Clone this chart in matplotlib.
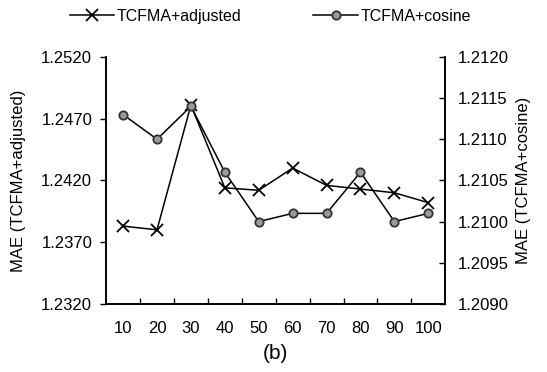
import matplotlib
matplotlib.use("Agg")
import matplotlib.pyplot as plt
from matplotlib.ticker import FixedLocator, FormatStrFormatter

plt.rcParams['font.family'] = ['Liberation Sans', 'DejaVu Sans']

#Data
neighbors = [10, 20, 30, 40, 50, 60, 70, 80, 90, 100]
mae_adjusted = [1.2383, 1.2380, 1.2481, 1.2414, 1.2412, 1.2430, 1.2416, 1.2413, 1.2410, 1.2402]
mae_cosine = [1.2113, 1.2110, 1.2114, 1.2106, 1.2100, 1.2101, 1.2101, 1.2106, 1.2100, 1.2101]
left_ticks = [1.2320, 1.2370, 1.2420, 1.2470, 1.2520]
right_ticks = [1.2090, 1.2095, 1.2100, 1.2105, 1.2110, 1.2115, 1.2120]

fig = plt.figure(figsize=(5.47, 3.72), dpi=100)
ax = fig.add_axes([0.194, 0.183, 0.620, 0.664])
ax2 = ax.twinx()

pos = list(range(1, len(neighbors) + 1))
l1, = ax.plot(pos, mae_adjusted, color='black', lw=1.1, marker='x',
              markersize=8, markeredgewidth=1.3)
l2, = ax2.plot(pos, mae_cosine, color='black', lw=1.1, marker='o',
               markersize=6, markerfacecolor='#9a9a9a', markeredgecolor='#333333',
               markeredgewidth=1.3)

ax.set_xlim(0.5, len(neighbors) + 0.5)
ax.set_ylim(left_ticks[0], left_ticks[-1])
ax2.set_ylim(right_ticks[0], right_ticks[-1])
ax.set_yticks(left_ticks)
ax2.set_yticks(right_ticks)
ax.yaxis.set_major_formatter(FormatStrFormatter('%.4f'))
ax2.yaxis.set_major_formatter(FormatStrFormatter('%.4f'))

ax.set_xticks(pos)
ax.set_xticklabels([str(n) for n in neighbors])
ax.xaxis.set_minor_locator(FixedLocator([p + 0.5 for p in pos[:-1]]))
ax.tick_params(axis='x', which='major', length=0, pad=12, labelsize=12)
ax.tick_params(axis='x', which='minor', length=4, direction='in', width=1)
ax.tick_params(axis='y', length=4, direction='out', width=1, labelsize=12, pad=6)
ax2.tick_params(axis='y', length=4, direction='in', width=1, labelsize=12, pad=9)

for a in (ax, ax2):
    for s in a.spines.values():
        s.set_linewidth(1.2)
ax.spines['top'].set_visible(False)
ax2.spines['top'].set_visible(False)

ax.set_ylabel('MAE (TCFMA+adjusted)', fontsize=12, labelpad=11)
ax2.set_ylabel('MAE (TCFMA+cosine)', fontsize=12, labelpad=5)
ax.set_xlabel('(b)', fontsize=15, labelpad=6)

fig.legend([l1, l2], ['TCFMA+adjusted', 'TCFMA+cosine'], loc='upper center',
           bbox_to_anchor=(0.494, 1.015), ncol=2, frameon=False, fontsize=11.5,
           columnspacing=4.5, handlelength=2.8, handletextpad=0.15)

fig.savefig('out.png', dpi=100)
